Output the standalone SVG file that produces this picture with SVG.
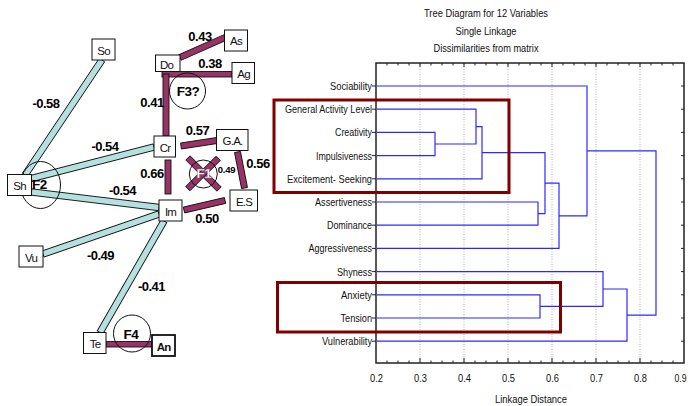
<svg xmlns="http://www.w3.org/2000/svg" width="690" height="406" viewBox="0 0 690 406">
<style>
  .bb { fill: #b5e0e0; stroke: #111; stroke-width: 0.9; }
  .pb { fill: #993366; stroke: #111; stroke-width: 0.9; }
  .box { fill: #fff; stroke: #111; stroke-width: 1; }
  .nl { font-family: "Liberation Sans", Arial, sans-serif; font-size: 11.5px; fill: #111; text-anchor: middle; letter-spacing: -0.8px; }
  .el { font-family: "Liberation Sans", Arial, sans-serif; font-size: 13px; font-weight: bold; fill: #000; text-anchor: middle; letter-spacing: -0.5px; }
  .fl { font-family: "Liberation Sans", Arial, sans-serif; font-size: 13.5px; font-weight: bold; fill: #000; text-anchor: middle; letter-spacing: -0.5px; }
  .circ { fill: none; stroke: #111; stroke-width: 1; }
  .dl { font-family: "Liberation Sans", Arial, sans-serif; font-size: 11px; fill: #111; text-anchor: end; }
  .tt { font-family: "Liberation Sans", Arial, sans-serif; font-size: 11px; fill: #111; text-anchor: middle; }
  .den { fill: none; stroke: #2a2aff; stroke-width: 1.2; }
  .grid { stroke: #a0a0a0; stroke-width: 0.8; stroke-dasharray: 1 1.5; }
  .ax { stroke: #222; stroke-width: 1.5; fill: none; }
  .tk { stroke: #222; stroke-width: 1; }
  .red { fill: none; stroke: #800000; stroke-width: 3; }
</style>

<!-- ===== Left: factor graph ===== -->
<g id="connectors">
  <rect class="bb" x="-69.2" y="-3.2" width="138.4" height="6.4" transform="translate(63.5 117.5) rotate(-56.2)"/>
  <rect class="bb" x="-63.25" y="-3.2" width="126.5" height="6.4" transform="translate(92.75 162.75) rotate(-14.4)"/>
  <rect class="bb" x="-64.2" y="-3.2" width="128.4" height="6.4" transform="translate(95.25 199.75) rotate(6.93)"/>
  <rect class="bb" x="-61.35" y="-3.2" width="122.7" height="6.4" transform="translate(101 234) rotate(-19.03)"/>
  <rect class="bb" x="-64.3" y="-3.2" width="128.6" height="6.4" transform="translate(132 276.75) rotate(-60.14)"/>

  <rect class="pb" x="-24.6" y="-3" width="49.2" height="6" transform="translate(202.5 47.5) rotate(-23.96)"/>
  <rect class="pb" x="162" y="71.5" width="70" height="5.5"/>
  <rect class="pb" x="163" y="74" width="6" height="62"/>
  <rect class="pb" x="-18.2" y="-3" width="36.4" height="6" transform="translate(199 143.25) rotate(-8.69)"/>
  <rect class="pb" x="165" y="160" width="6" height="34"/>
  <rect class="pb" x="-18.35" y="-3" width="36.7" height="6" transform="translate(241 170) rotate(79)"/>
  <rect class="pb" x="-21.05" y="-3" width="42.1" height="6" transform="translate(204.5 205.25) rotate(-13.05)"/>
  <rect class="pb" x="-22" y="-3" width="44" height="6" transform="translate(203.5 173.5) rotate(45)"/>
  <rect class="pb" x="-21.5" y="-3" width="43" height="6" transform="translate(203 173.5) rotate(-45)"/>
  <rect class="pb" x="106" y="341.5" width="46" height="5.5"/>

  <text class="el" x="46" y="108">-0.58</text>
  <text class="el" x="200" y="40.5">0.43</text>
  <text class="el" x="210" y="68">0.38</text>
  <text class="el" x="152" y="106.5">0.41</text>
  <text class="el" x="105" y="150.5">-0.54</text>
  <text class="el" x="197.5" y="135">0.57</text>
  <text class="el" x="258" y="168">0.56</text>
  <text class="el" x="152" y="178">0.66</text>
  <text class="el" x="122.5" y="195">-0.54</text>
  <text class="el" x="207" y="223.3">0.50</text>
  <text class="el" x="100.5" y="260">-0.49</text>
  <text class="el" x="151.5" y="291">-0.41</text>
</g>

<g id="factor-F2">
  <ellipse class="circ" cx="40.5" cy="185" rx="20" ry="23.5"/>
</g>
<g id="factor-F3">
  <circle class="circ" cx="187.5" cy="91" r="18"/>
  <text class="fl" x="188" y="95.5">F3?</text>
</g>
<g id="factor-F1">
  <circle class="circ" cx="203.3" cy="174" r="14"/>
  <text class="fl" x="204" y="177.5" style="fill:#fff;stroke:#666;stroke-width:0.3px">F1</text>
  <text class="el" x="226.5" y="173.3" style="font-size:9.5px;letter-spacing:-0.3px">0.49</text>
</g>
<g id="factor-F4">
  <circle class="circ" cx="132" cy="333.5" r="18.5"/>
  <text class="fl" x="131" y="338.5">F4</text>
</g>

<g id="node-So"><rect class="box" x="92" y="39" width="23" height="21"/><text class="nl" x="103.5" y="54.5">So</text></g>
<g id="node-Do"><rect class="box" x="155.5" y="55" width="24.5" height="16.5"/><text class="nl" x="166.5" y="68.5">Do</text></g>
<g id="node-As"><rect class="box" x="224.5" y="30" width="23" height="21"/><text class="nl" x="236" y="45">As</text></g>
<g id="node-Ag"><rect class="box" x="232" y="62.5" width="22.5" height="21"/><text class="nl" x="243.5" y="77.5">Ag</text></g>
<g id="node-Cr"><rect class="box" x="154" y="136" width="21.5" height="21"/><text class="nl" x="165" y="151.5">Cr</text></g>
<g id="node-GA"><rect class="box" x="216.5" y="129.5" width="31.5" height="21"/><text class="nl" x="232.5" y="145">G.A.</text></g>
<g id="node-Sh"><rect class="box" x="7.5" y="174.5" width="24" height="21"/><text class="nl" x="19.5" y="190">Sh</text></g>
<g id="node-ES"><rect class="box" x="230" y="190" width="27.5" height="21"/><text class="nl" x="244" y="205.5">E.S</text></g>
<g id="node-Im"><rect class="box" x="159" y="200" width="23" height="21"/><text class="nl" x="170.5" y="215.5">Im</text></g>
<g id="node-Vu"><rect class="box" x="19" y="246" width="24" height="21"/><text class="nl" x="31" y="261.5">Vu</text></g>
<g id="node-Te"><rect class="box" x="83.5" y="332.5" width="22.5" height="21"/><text class="nl" x="95" y="348">Te</text></g>
<g id="node-An"><rect class="box" x="152" y="335" width="23" height="21" style="stroke-width:1.8"/><text class="nl" x="163.5" y="350.5" style="font-weight:bold">An</text></g>
<text class="fl" x="39.5" y="189">F2</text>

<!-- ===== Right: dendrogram ===== -->
<g id="titles">
  <text class="tt" x="486" y="17" textLength="124" lengthAdjust="spacingAndGlyphs">Tree Diagram for 12 Variables</text>
  <text class="tt" x="486" y="34.5" textLength="61" lengthAdjust="spacingAndGlyphs">Single Linkage</text>
  <text class="tt" x="486" y="52.3" textLength="105" lengthAdjust="spacingAndGlyphs">Dissimilarities from matrix</text>
</g>

<g id="grid">
  <line class="grid" x1="420" y1="64" x2="420" y2="362"/>
  <line class="grid" x1="464" y1="64" x2="464" y2="362"/>
  <line class="grid" x1="508" y1="64" x2="508" y2="362"/>
  <line class="grid" x1="552" y1="64" x2="552" y2="362"/>
  <line class="grid" x1="596" y1="64" x2="596" y2="362"/>
  <line class="grid" x1="640" y1="64" x2="640" y2="362"/>
</g>

<g id="axes">
  <rect class="ax" x="376" y="63" width="308" height="300"/>
  <path class="tk" d="M420,363v-5 M464,363v-5 M508,363v-5 M552,363v-5 M596,363v-5 M640,363v-5
    M387,363v-2.5 M398,363v-2.5 M409,363v-2.5 M431,363v-2.5 M442,363v-2.5 M453,363v-2.5
    M475,363v-2.5 M486,363v-2.5 M497,363v-2.5 M519,363v-2.5 M530,363v-2.5 M541,363v-2.5
    M563,363v-2.5 M574,363v-2.5 M585,363v-2.5 M607,363v-2.5 M618,363v-2.5 M629,363v-2.5
    M651,363v-2.5 M662,363v-2.5 M673,363v-2.5"/>
  <path class="tk" d="M420,63v4 M464,63v4 M508,63v4 M552,63v4 M596,63v4 M640,63v4
    M387,63v2.5 M398,63v2.5 M409,63v2.5 M431,63v2.5 M442,63v2.5 M453,63v2.5
    M475,63v2.5 M486,63v2.5 M497,63v2.5 M519,63v2.5 M530,63v2.5 M541,63v2.5
    M563,63v2.5 M574,63v2.5 M585,63v2.5 M607,63v2.5 M618,63v2.5 M629,63v2.5
    M651,63v2.5 M662,63v2.5 M673,63v2.5"/>
  <path class="tk" d="M372,86h4 M372,109.2h4 M372,132.4h4 M372,155.6h4 M372,178.8h4 M372,202h4 M372,225.2h4 M372,248.4h4 M372,271.6h4 M372,294.8h4 M372,318h4 M372,341.2h4
    M684,86h-3 M684,109.2h-3 M684,132.4h-3 M684,155.6h-3 M684,178.8h-3 M684,202h-3 M684,225.2h-3 M684,248.4h-3 M684,271.6h-3 M684,294.8h-3 M684,318h-3 M684,341.2h-3"/>
  <text class="tt" x="376.5" y="381.5" textLength="13" lengthAdjust="spacingAndGlyphs">0.2</text>
  <text class="tt" x="420.5" y="381.5" textLength="13" lengthAdjust="spacingAndGlyphs">0.3</text>
  <text class="tt" x="464.5" y="381.5" textLength="13" lengthAdjust="spacingAndGlyphs">0.4</text>
  <text class="tt" x="508.5" y="381.5" textLength="13" lengthAdjust="spacingAndGlyphs">0.5</text>
  <text class="tt" x="552.5" y="381.5" textLength="13" lengthAdjust="spacingAndGlyphs">0.6</text>
  <text class="tt" x="596.5" y="381.5" textLength="13" lengthAdjust="spacingAndGlyphs">0.7</text>
  <text class="tt" x="640.5" y="381.5" textLength="13" lengthAdjust="spacingAndGlyphs">0.8</text>
  <text class="tt" x="680.5" y="381.5" textLength="12" lengthAdjust="spacingAndGlyphs">0.9</text>
  <text class="tt" x="531" y="403" textLength="72" lengthAdjust="spacingAndGlyphs">Linkage Distance</text>
</g>

<g id="row-labels">
  <text class="dl" x="372" y="90" textLength="42" lengthAdjust="spacingAndGlyphs">Sociability</text>
  <text class="dl" x="372" y="113.2" textLength="87" lengthAdjust="spacingAndGlyphs">General Activity Level</text>
  <text class="dl" x="372" y="136.4" textLength="37" lengthAdjust="spacingAndGlyphs">Creativity</text>
  <text class="dl" x="372" y="159.6" textLength="56" lengthAdjust="spacingAndGlyphs">Impulsiveness</text>
  <text class="dl" x="372" y="182.8" textLength="85" lengthAdjust="spacingAndGlyphs">Excitement- Seeking</text>
  <text class="dl" x="372" y="206" textLength="57" lengthAdjust="spacingAndGlyphs">Assertiveness</text>
  <text class="dl" x="372" y="229.2" textLength="45" lengthAdjust="spacingAndGlyphs">Dominance</text>
  <text class="dl" x="372" y="252.4" textLength="63.5" lengthAdjust="spacingAndGlyphs">Aggressiveness</text>
  <text class="dl" x="372" y="275.6" textLength="35" lengthAdjust="spacingAndGlyphs">Shyness</text>
  <text class="dl" x="372" y="298.8" textLength="31" lengthAdjust="spacingAndGlyphs">Anxiety</text>
  <text class="dl" x="372" y="322" textLength="31.5" lengthAdjust="spacingAndGlyphs">Tension</text>
  <text class="dl" x="372" y="345.2" textLength="50" lengthAdjust="spacingAndGlyphs">Vulnerability</text>
</g>

<g id="dendrogram">
  <path class="den" d="M377,132.4H435V155.6H377"/>
  <path class="den" d="M377,109.2H476V144H435"/>
  <path class="den" d="M476,126.6H482V178.8H377"/>
  <path class="den" d="M377,202H538V225.2H377"/>
  <path class="den" d="M482,152.7H545V213.6H538"/>
  <path class="den" d="M545,183.2H559V248.4H377"/>
  <path class="den" d="M377,86H587V215.8H559"/>
  <path class="den" d="M377,294.8H540V318H377"/>
  <path class="den" d="M377,271.6H603V306.4H540"/>
  <path class="den" d="M603,289H627V341.2H377"/>
  <path class="den" d="M587,150.9H656V315.1H627"/>
</g>

<g id="highlights">
  <rect class="red" x="274" y="100" width="235" height="92.5"/>
  <rect class="red" x="277.5" y="282.5" width="283" height="49.5"/>
</g>
</svg>
